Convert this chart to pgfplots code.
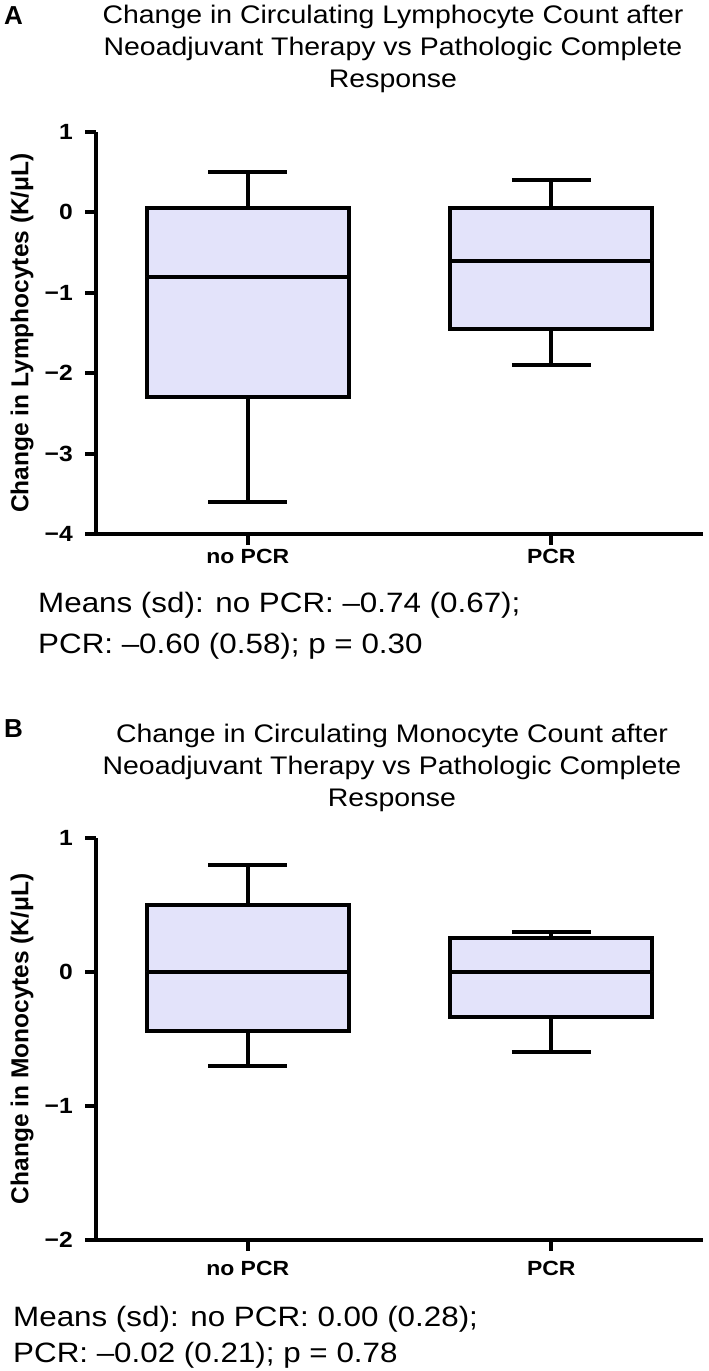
\documentclass[border=0pt]{standalone}
\usepackage{pgfplots}
\pgfplotsset{compat=1.18}
\usepgfplotslibrary{statistics}
\usepackage{fontspec}
\setmainfont{Liberation Sans}[FakeStretch=1.12]
\newfontfamily\plainsans{Liberation Sans}
\definecolor{boxfill}{RGB}{227,227,250}

\pgfplotsset{
  mybox/.style={
    scale only axis, width=607pt,
    xmin=-0.5, xmax=1.5,
    axis x line*=bottom, axis y line*=left,
    axis line style={-, line width=4.5pt},
    xtick={0,1}, xticklabels={no PCR,PCR},
    tick align=outside, major tick length=11pt,
    every tick/.style={black, line width=4pt},
    xticklabel style={font=\bfseries\fontsize{20.5}{24}\selectfont, anchor=base, inner sep=0pt},
    yticklabel style={font=\bfseries\fontsize{22}{26}\selectfont, anchor=east, inner sep=0pt, xshift=-12pt},
    ylabel style={font=\plainsans\bfseries\fontsize{24.5}{28}\selectfont, at={(axis description cs:0,0.5)}, anchor=center, inner sep=0pt, yshift=74pt},
    clip=false,
    boxplot/draw direction=y,
  },
  bp/.style={draw=black, fill=boxfill, line width=4pt, solid},
}

\begin{document}
\begin{tikzpicture}
\path[use as bounding box] (0,0) rectangle (709pt,-1371pt);

% ---------- Panel A ----------
\node[anchor=base west, inner sep=0pt, font=\plainsans\bfseries\fontsize{26}{30}\selectfont] at (4pt,-24pt) {A};
\begin{scope}[every node/.style={anchor=base, inner sep=0pt, font=\fontsize{25.4}{30}\selectfont}]
\node at (393pt,-23pt) {Change in Circulating Lymphocyte Count after};
\node at (393pt,-55pt) {Neoadjuvant Therapy vs Pathologic Complete};
\node at (393pt,-87pt) {Response};
\end{scope}

\begin{axis}[mybox, at={(96pt,-534pt)}, anchor=south west, height=402pt,
  ymin=-4, ymax=1, ytick={-4,-3,-2,-1,0,1},
  yticklabels={−4,−3,−2,−1,0,1},
  xticklabel style={yshift=-18pt},
  ylabel={Change in Lymphocytes (K/μL)}]
\addplot[bp, boxplot prepared={draw position=0, median=-0.8, upper quartile=0.05, lower quartile=-2.3, upper whisker=0.5, lower whisker=-3.6, box extend=0.667, whisker extend=0.26}] coordinates {};
\addplot[bp, boxplot prepared={draw position=1, median=-0.6, upper quartile=0.05, lower quartile=-1.45, upper whisker=0.4, lower whisker=-1.9, box extend=0.667, whisker extend=0.26}] coordinates {};
\end{axis}

\begin{scope}[every node/.style={anchor=base west, inner sep=0pt, font=\fontsize{28}{34}\selectfont}]
\node at (38pt,-612pt) {Means (sd): no PCR: –0.74 (0.67);};
\node at (38pt,-653pt) {PCR: –0.60 (0.58); p = 0.30};
\end{scope}

% ---------- Panel B ----------
\node[anchor=base west, inner sep=0pt, font=\plainsans\bfseries\fontsize{26}{30}\selectfont] at (4pt,-737pt) {B};
\begin{scope}[every node/.style={anchor=base, inner sep=0pt, font=\fontsize{25.4}{30}\selectfont}]
\node at (392pt,-742pt) {Change in Circulating Monocyte Count after};
\node at (392pt,-774pt) {Neoadjuvant Therapy vs Pathologic Complete};
\node at (392pt,-806pt) {Response};
\end{scope}

\begin{axis}[mybox, at={(96pt,-1239.8pt)}, anchor=south west, height=402.1pt,
  ymin=-2, ymax=1, ytick={-2,-1,0,1},
  yticklabels={−2,−1,0,1},
  xticklabel style={yshift=-25pt},
  ylabel={Change in Monocytes (K/μL)}]
\addplot[bp, boxplot prepared={draw position=0, median=0, upper quartile=0.5, lower quartile=-0.44, upper whisker=0.8, lower whisker=-0.7, box extend=0.667, whisker extend=0.26}] coordinates {};
\addplot[bp, boxplot prepared={draw position=1, median=0, upper quartile=0.25, lower quartile=-0.34, upper whisker=0.3, lower whisker=-0.6, box extend=0.667, whisker extend=0.26}] coordinates {};
\end{axis}

\begin{scope}[every node/.style={anchor=base west, inner sep=0pt, font=\fontsize{28}{34}\selectfont}]
\node at (13pt,-1326pt) {Means (sd): no PCR: 0.00 (0.28);};
\node at (13pt,-1362pt) {PCR: –0.02 (0.21); p = 0.78};
\end{scope}
\end{tikzpicture}
\end{document}
